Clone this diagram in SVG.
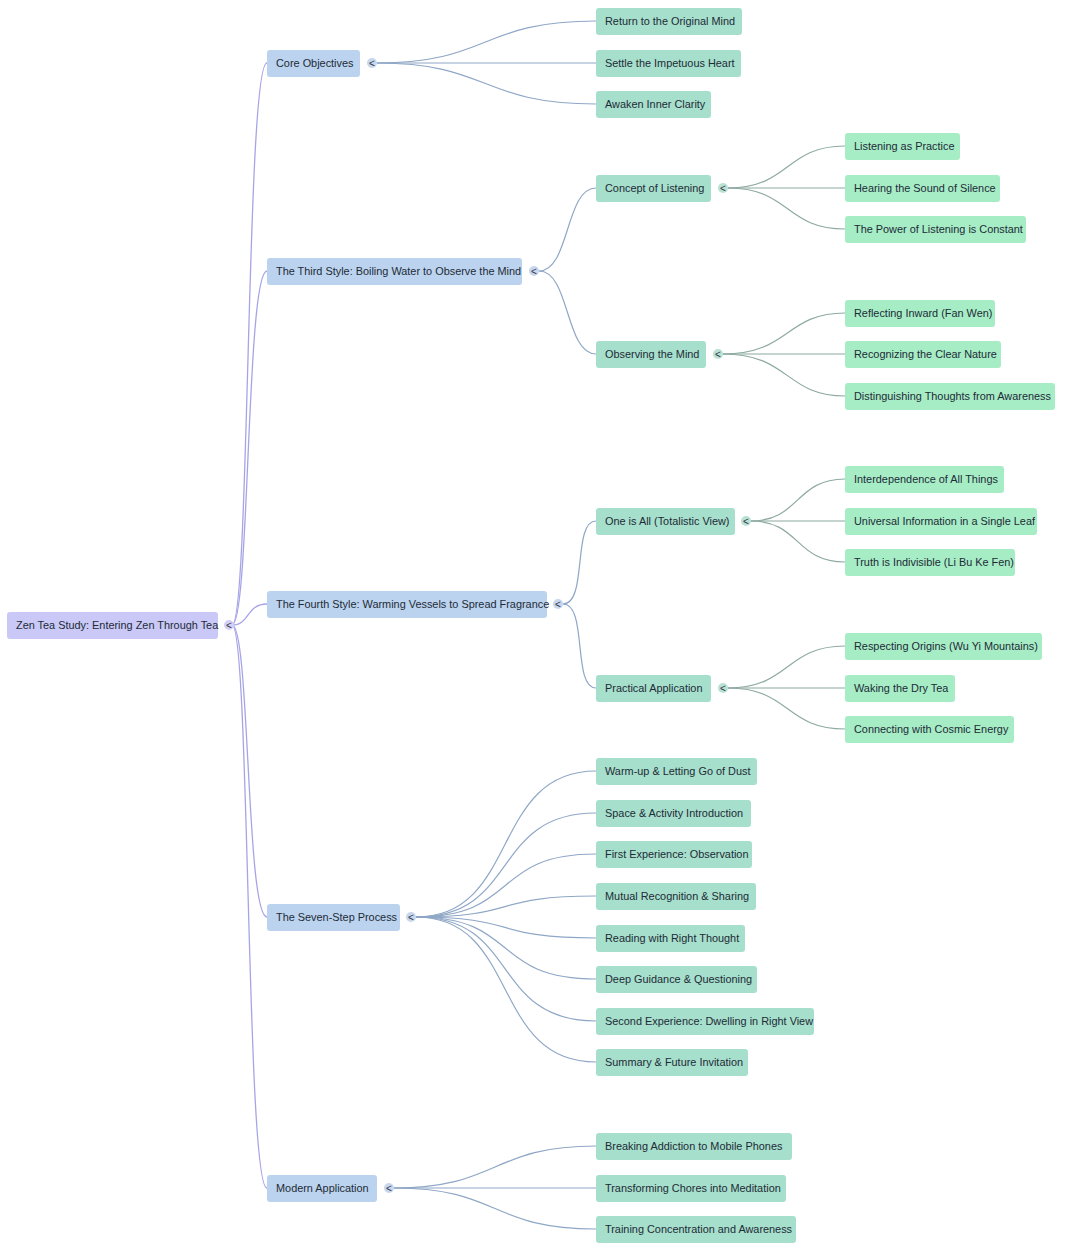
<svg xmlns="http://www.w3.org/2000/svg" width="1080" height="1252" viewBox="0 0 1080 1252">
<style>
text{font-family:"Liberation Sans","DejaVu Sans",sans-serif;font-size:10.9px;fill:#1e2b36}
.r0{fill:#c9c8f6}
.r1{fill:#bbd3ef}
.r2{fill:#a6dfcc}
.r3{fill:#a6edc6}
.e0{fill:none;stroke:#a7a4e6;stroke-width:1.3}
.e1{fill:none;stroke:#8fa7c6;stroke-width:1.2}
.e2{fill:none;stroke:#8eaaa2;stroke-width:1.2}
.c0{fill:#d3d1f5}
.c1{fill:#c6d7ee}
.c2{fill:#b9e2d4}
.ct{font-size:10px;fill:#334}
</style>
<rect width="1080" height="1252" fill="#ffffff"/>
<g id="connectors">
<path class="e0" d="M232 625 C250 625 246 63 267 63"/>
<path class="e0" d="M232 625 C250 625 246 271 267 271"/>
<path class="e0" d="M232 625 C250 625 246 604 267 604"/>
<path class="e0" d="M232 625 C250 625 246 917 267 917"/>
<path class="e0" d="M232 625 C250 625 246 1188 267 1188"/>
<path class="e1" d="M377 63 C490 63 480 21 596 21"/>
<path class="e1" d="M377 63 L596 63"/>
<path class="e1" d="M377 63 C490 63 480 104 596 104"/>
<path class="e1" d="M539 271 C570 271 565 188 596 188"/>
<path class="e1" d="M539 271 C570 271 565 354 596 354"/>
<path class="e1" d="M563 604 C588 604 572 521 596 521"/>
<path class="e1" d="M563 604 C588 604 572 688 596 688"/>
<path class="e1" d="M416 917 C520 917 490 771 596 771"/>
<path class="e1" d="M416 917 C520 917 490 813 596 813"/>
<path class="e1" d="M416 917 C520 917 490 854 596 854"/>
<path class="e1" d="M416 917 C520 917 490 896 596 896"/>
<path class="e1" d="M416 917 C520 917 490 938 596 938"/>
<path class="e1" d="M416 917 C520 917 490 979 596 979"/>
<path class="e1" d="M416 917 C520 917 490 1021 596 1021"/>
<path class="e1" d="M416 917 C520 917 490 1062 596 1062"/>
<path class="e1" d="M394 1188 C500 1188 490 1146 596 1146"/>
<path class="e1" d="M394 1188 L596 1188"/>
<path class="e1" d="M394 1188 C500 1188 490 1229 596 1229"/>
<path class="e2" d="M728 188 C790 188 785 146 845 146"/>
<path class="e2" d="M728 188 L845 188"/>
<path class="e2" d="M728 188 C790 188 785 229 845 229"/>
<path class="e2" d="M723 354 C790 354 785 313 845 313"/>
<path class="e2" d="M723 354 L845 354"/>
<path class="e2" d="M723 354 C790 354 785 396 845 396"/>
<path class="e2" d="M751 521 C800 521 795 479 845 479"/>
<path class="e2" d="M751 521 L845 521"/>
<path class="e2" d="M751 521 C800 521 795 562 845 562"/>
<path class="e2" d="M728 688 C790 688 785 646 845 646"/>
<path class="e2" d="M728 688 L845 688"/>
<path class="e2" d="M728 688 C790 688 785 729 845 729"/>
</g>
<g id="root"><rect class="r0" x="7" y="612" width="211" height="27" rx="3"/><text x="16" y="629">Zen Tea Study: Entering Zen Through Tea</text><circle class="c0" cx="229" cy="625" r="5"/><text class="ct" x="226" y="628.5">&lt;</text></g>
<g id="n-core"><rect class="r1" x="267" y="50" width="93" height="27" rx="3"/><text x="276" y="67">Core Objectives</text><circle class="c1" cx="372" cy="63" r="5"/><text class="ct" x="369" y="66.5">&lt;</text></g>
<g id="n-third"><rect class="r1" x="267" y="258" width="255" height="27" rx="3"/><text x="276" y="275">The Third Style: Boiling Water to Observe the Mind</text><circle class="c1" cx="534" cy="271" r="5"/><text class="ct" x="531" y="274.5">&lt;</text></g>
<g id="n-fourth"><rect class="r1" x="267" y="591" width="280" height="27" rx="3"/><text x="276" y="608">The Fourth Style: Warming Vessels to Spread Fragrance</text><circle class="c1" cx="558" cy="604" r="5"/><text class="ct" x="555" y="607.5">&lt;</text></g>
<g id="n-seven"><rect class="r1" x="267" y="904" width="133" height="27" rx="3"/><text x="276" y="921">The Seven-Step Process</text><circle class="c1" cx="411" cy="917" r="5"/><text class="ct" x="408" y="920.5">&lt;</text></g>
<g id="n-modern"><rect class="r1" x="267" y="1175" width="110" height="27" rx="3"/><text x="276" y="1192">Modern Application</text><circle class="c1" cx="389" cy="1188" r="5"/><text class="ct" x="386" y="1191.5">&lt;</text></g>
<g id="n-return"><rect class="r2" x="596" y="8" width="146" height="27" rx="3"/><text x="605" y="25">Return to the Original Mind</text></g>
<g id="n-settle"><rect class="r2" x="596" y="50" width="145" height="27" rx="3"/><text x="605" y="67">Settle the Impetuous Heart</text></g>
<g id="n-awaken"><rect class="r2" x="596" y="91" width="115" height="27" rx="3"/><text x="605" y="108">Awaken Inner Clarity</text></g>
<g id="n-concept"><rect class="r2" x="596" y="175" width="115" height="27" rx="3"/><text x="605" y="192">Concept of Listening</text><circle class="c2" cx="723" cy="188" r="5"/><text class="ct" x="720" y="191.5">&lt;</text></g>
<g id="n-observing"><rect class="r2" x="596" y="341" width="110" height="27" rx="3"/><text x="605" y="358">Observing the Mind</text><circle class="c2" cx="718" cy="354" r="5"/><text class="ct" x="715" y="357.5">&lt;</text></g>
<g id="n-oneisall"><rect class="r2" x="596" y="508" width="139" height="27" rx="3"/><text x="605" y="525">One is All (Totalistic View)</text><circle class="c2" cx="746" cy="521" r="5"/><text class="ct" x="743" y="524.5">&lt;</text></g>
<g id="n-practical"><rect class="r2" x="596" y="675" width="115" height="27" rx="3"/><text x="605" y="692">Practical Application</text><circle class="c2" cx="723" cy="688" r="5"/><text class="ct" x="720" y="691.5">&lt;</text></g>
<g id="n-s1"><rect class="r2" x="596" y="758" width="161" height="27" rx="3"/><text x="605" y="775">Warm-up &amp; Letting Go of Dust</text></g>
<g id="n-s2"><rect class="r2" x="596" y="800" width="155" height="27" rx="3"/><text x="605" y="817">Space &amp; Activity Introduction</text></g>
<g id="n-s3"><rect class="r2" x="596" y="841" width="156" height="27" rx="3"/><text x="605" y="858">First Experience: Observation</text></g>
<g id="n-s4"><rect class="r2" x="596" y="883" width="160" height="27" rx="3"/><text x="605" y="900">Mutual Recognition &amp; Sharing</text></g>
<g id="n-s5"><rect class="r2" x="596" y="925" width="149" height="27" rx="3"/><text x="605" y="942">Reading with Right Thought</text></g>
<g id="n-s6"><rect class="r2" x="596" y="966" width="161" height="27" rx="3"/><text x="605" y="983">Deep Guidance &amp; Questioning</text></g>
<g id="n-s7"><rect class="r2" x="596" y="1008" width="218" height="27" rx="3"/><text x="605" y="1025">Second Experience: Dwelling in Right View</text></g>
<g id="n-s8"><rect class="r2" x="596" y="1049" width="152" height="27" rx="3"/><text x="605" y="1066">Summary &amp; Future Invitation</text></g>
<g id="n-m1"><rect class="r2" x="596" y="1133" width="196" height="27" rx="3"/><text x="605" y="1150">Breaking Addiction to Mobile Phones</text></g>
<g id="n-m2"><rect class="r2" x="596" y="1175" width="190" height="27" rx="3"/><text x="605" y="1192">Transforming Chores into Meditation</text></g>
<g id="n-m3"><rect class="r2" x="596" y="1216" width="200" height="27" rx="3"/><text x="605" y="1233">Training Concentration and Awareness</text></g>
<g id="n-l1"><rect class="r3" x="845" y="133" width="115" height="27" rx="3"/><text x="854" y="150">Listening as Practice</text></g>
<g id="n-l2"><rect class="r3" x="845" y="175" width="155" height="27" rx="3"/><text x="854" y="192">Hearing the Sound of Silence</text></g>
<g id="n-l3"><rect class="r3" x="845" y="216" width="181" height="27" rx="3"/><text x="854" y="233">The Power of Listening is Constant</text></g>
<g id="n-o1"><rect class="r3" x="845" y="300" width="150" height="27" rx="3"/><text x="854" y="317">Reflecting Inward (Fan Wen)</text></g>
<g id="n-o2"><rect class="r3" x="845" y="341" width="156" height="27" rx="3"/><text x="854" y="358">Recognizing the Clear Nature</text></g>
<g id="n-o3"><rect class="r3" x="845" y="383" width="210" height="27" rx="3"/><text x="854" y="400">Distinguishing Thoughts from Awareness</text></g>
<g id="n-a1"><rect class="r3" x="845" y="466" width="159" height="27" rx="3"/><text x="854" y="483">Interdependence of All Things</text></g>
<g id="n-a2"><rect class="r3" x="845" y="508" width="192" height="27" rx="3"/><text x="854" y="525">Universal Information in a Single Leaf</text></g>
<g id="n-a3"><rect class="r3" x="845" y="549" width="170" height="27" rx="3"/><text x="854" y="566">Truth is Indivisible (Li Bu Ke Fen)</text></g>
<g id="n-p1"><rect class="r3" x="845" y="633" width="197" height="27" rx="3"/><text x="854" y="650">Respecting Origins (Wu Yi Mountains)</text></g>
<g id="n-p2"><rect class="r3" x="845" y="675" width="110" height="27" rx="3"/><text x="854" y="692">Waking the Dry Tea</text></g>
<g id="n-p3"><rect class="r3" x="845" y="716" width="169" height="27" rx="3"/><text x="854" y="733">Connecting with Cosmic Energy</text></g>
</svg>
